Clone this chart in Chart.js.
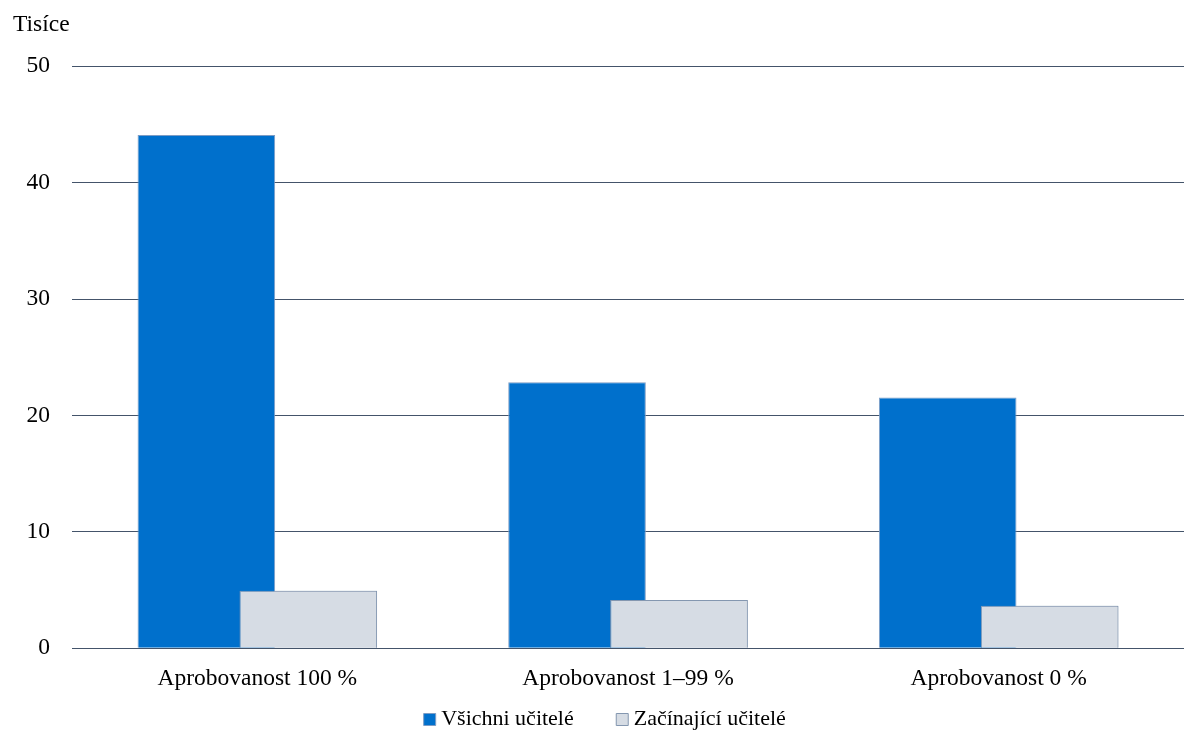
<!DOCTYPE html>
<html>
<head>
<meta charset="utf-8">
<script src="https://cdn.jsdelivr.net/npm/chart.js@4.4.1/dist/chart.umd.min.js"></script>
<style>
  html, body { margin: 0; padding: 0; background: #fff; }
  #wrap { width: 1186px; height: 730px; position: relative; }
</style>
</head>
<body>
<div id="wrap"><canvas id="chart"></canvas></div>
<script>
  // teachers by qualification, thousands
  var categories = ["Aprobovanost 100 %", "Aprobovanost 1–99 %", "Aprobovanost 0 %"];
  var allTeachers = [44.1, 22.85, 21.55];
  var newTeachers = [4.95, 4.15, 3.65];
  var yTicks = [0, 10, 20, 30, 40, 50];

  var serif = "'Liberation Serif', 'Times New Roman', serif";
  Chart.defaults.font.family = serif;
  Chart.defaults.font.size = 23.5;
  Chart.defaults.color = "#000";

  const legendGap = 48;

  const overlapPlugin = {
    id: "overlap",
    // second series overlaps the first, so paint it again on top
    afterDatasetsDraw(chart) {
      const meta = chart.getDatasetMeta(1);
      if (!meta.hidden) meta.controller.draw();
    },
    // legend labels have a wide gap between items, pull the row back up and over
    afterLayout(chart) {
      const lg = chart.legend;
      lg.top += chart.scales.x.bottom + 8 - (lg.top + legendGap);
      lg.left += 9;
      lg.right += 9;
    },
  };

  const ctx = document.getElementById("chart");
  new Chart(ctx, {
    type: "bar",
    data: {
      labels: categories,
      datasets: [
        {
          label: "Všichni učitelé",
          data: allTeachers,
          backgroundColor: "#0070cc",
          borderColor: "#7d9cc4",
          borderWidth: 1,
          categoryPercentage: 0.55,
          barPercentage: 1.35,
        },
        {
          label: "Začínající učitelé",
          data: newTeachers,
          backgroundColor: "#d6dce4",
          borderColor: "#8497b0",
          borderWidth: 1,
          categoryPercentage: 0.55,
          barPercentage: 1.35,
        },
      ],
    },
    plugins: [overlapPlugin],
    options: {
      responsive: true,
      maintainAspectRatio: false,
      animation: false,
      layout: { padding: { left: 13, right: 2, top: 0, bottom: 0 } },
      plugins: {
        title: {
          display: true,
          text: "Tisíce",
          align: "start",
          font: { size: 23.5, weight: "normal" },
          padding: { top: 11, bottom: 27 },
        },
        legend: {
          position: "bottom",
          maxHeight: 29.5,
          labels: {
            usePointStyle: true,
            pointStyle: "rect",
            boxWidth: 1,
            boxHeight: 12,
            padding: legendGap,
            font: { size: 22 },
          },
        },
        tooltip: { enabled: false },
      },
      scales: {
        x: {
          grid: { display: false },
          border: { display: false },
          ticks: { padding: 8 },
        },
        y: {
          min: 0,
          max: 50,
          afterBuildTicks: axis => { axis.ticks = yTicks.map(v => ({ value: v })); },
          afterFit: axis => { axis.width = 59; },
          grid: { color: "#44546a", lineWidth: 1, drawTicks: false },
          border: { display: false },
          ticks: { padding: 22 },
        },
      },
    },
  });
</script>
</body>
</html>
